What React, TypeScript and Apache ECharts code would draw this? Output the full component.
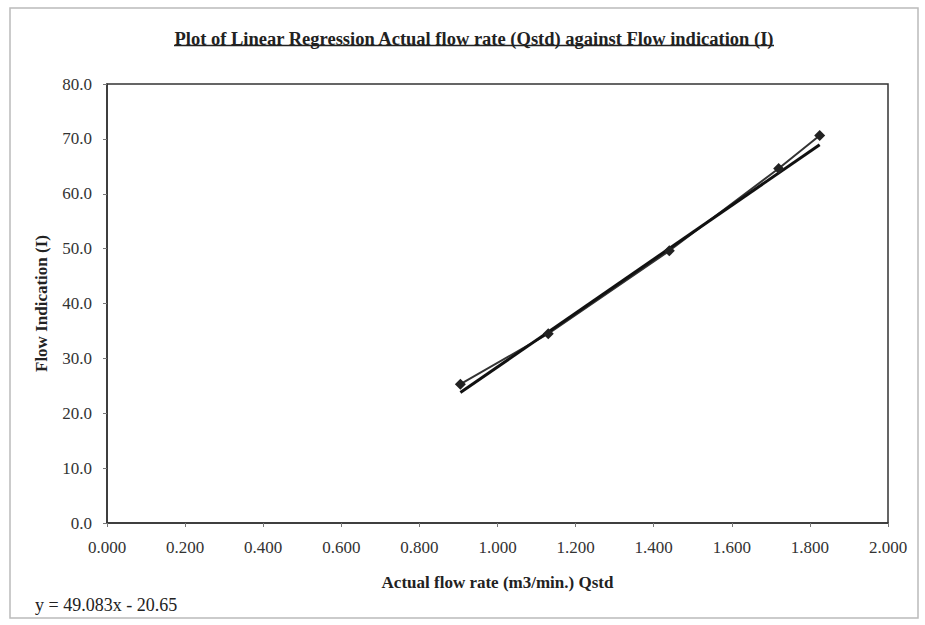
import React, { useEffect, useRef } from "react";
import * as echarts from "echarts";

const flowRate: number[] = [0.905, 1.13, 1.44, 1.72, 1.825];
const flowIndication: number[] = [25.3, 34.5, 49.6, 64.6, 70.6];
const slope = 49.083;
const intercept = -20.65;
const titleText = "Plot of Linear Regression Actual flow rate (Qstd) against Flow indication (I)";
const xName = "Actual flow rate (m3/min.) Qstd";
const yName = "Flow Indication (I)";
const equationText = "y = 49.083x - 20.65";

const SERIF = "'Liberation Serif', 'Times New Roman', serif";

export default function App() {
  const ref = useRef<HTMLDivElement>(null);
  useEffect(() => {
    if (!ref.current) return;
    const chart = echarts.init(ref.current, undefined, { renderer: "svg" });
    const points = flowRate.map((x, i) => [x, flowIndication[i]]);
    const xMin = Math.min(...flowRate);
    const xMax = Math.max(...flowRate);
    const trend = [xMin, xMax].map((x) => [x, slope * x + intercept]);
    chart.setOption({
      animation: false,
      backgroundColor: "#ffffff",
      title: {
        text: titleText,
        left: 469,
        top: 24,
        textAlign: "center",
        textStyle: { fontFamily: SERIF, fontSize: 18.5, fontWeight: "bold", color: "#222" },
      },
      graphic: [
        {
          type: "rect",
          shape: { x: 10, y: 8, width: 908, height: 610 },
          style: { fill: "none", stroke: "#bbbbbb", lineWidth: 1.5 },
          silent: true,
        },
        {
          type: "line",
          shape: { x1: 174, y1: 45.5, x2: 774, y2: 45.5 },
          style: { stroke: "#222", lineWidth: 1.3 },
          silent: true,
        },
        {
          type: "text",
          left: 35,
          top: 596,
          style: { text: equationText, fontFamily: SERIF, fontSize: 18, fill: "#222" },
        },
      ],
      grid: {
        left: 107,
        right: 37,
        top: 84,
        bottom: 102,
        show: true,
        borderColor: "#333",
        borderWidth: 1.5,
        backgroundColor: "#fff",
      },
      xAxis: {
        type: "value",
        min: 0,
        max: 2,
        interval: 0.2,
        name: xName,
        nameLocation: "middle",
        nameGap: 51,
        nameTextStyle: { fontFamily: SERIF, fontSize: 17, fontWeight: "bold", color: "#222" },
        axisLine: { show: true, lineStyle: { color: "#333", width: 1.5 } },
        axisTick: { show: true, inside: false, length: 4, lineStyle: { color: "#777" } },
        axisLabel: {
          formatter: (v: number) => v.toFixed(3),
          fontFamily: SERIF,
          fontSize: 17,
          color: "#333",
          margin: 16,
        },
        splitLine: { show: false },
      },
      yAxis: {
        type: "value",
        min: 0,
        max: 80,
        interval: 10,
        name: yName,
        nameLocation: "middle",
        nameGap: 57,
        nameRotate: 90,
        nameTextStyle: { fontFamily: SERIF, fontSize: 17, fontWeight: "bold", color: "#222" },
        axisLine: { show: true, lineStyle: { color: "#333", width: 1.5 } },
        axisTick: { show: true, inside: false, length: 4, lineStyle: { color: "#777" } },
        axisLabel: {
          formatter: (v: number) => v.toFixed(1),
          fontFamily: SERIF,
          fontSize: 17,
          color: "#333",
          margin: 15,
        },
        splitLine: { show: false },
      },
      series: [
        {
          name: "Data",
          type: "line",
          data: points,
          symbol: "diamond",
          symbolSize: 11,
          itemStyle: { color: "#222" },
          lineStyle: { color: "#333", width: 2 },
        },
        {
          name: "Linear trend",
          type: "line",
          data: trend,
          symbol: "none",
          lineStyle: { color: "#111", width: 3 },
        },
      ],
    });
    return () => chart.dispose();
  }, []);
  return (
    <div
      ref={ref}
      style={{ position: "absolute", left: 0, top: 0, width: 925, height: 625 }}
    />
  );
}
